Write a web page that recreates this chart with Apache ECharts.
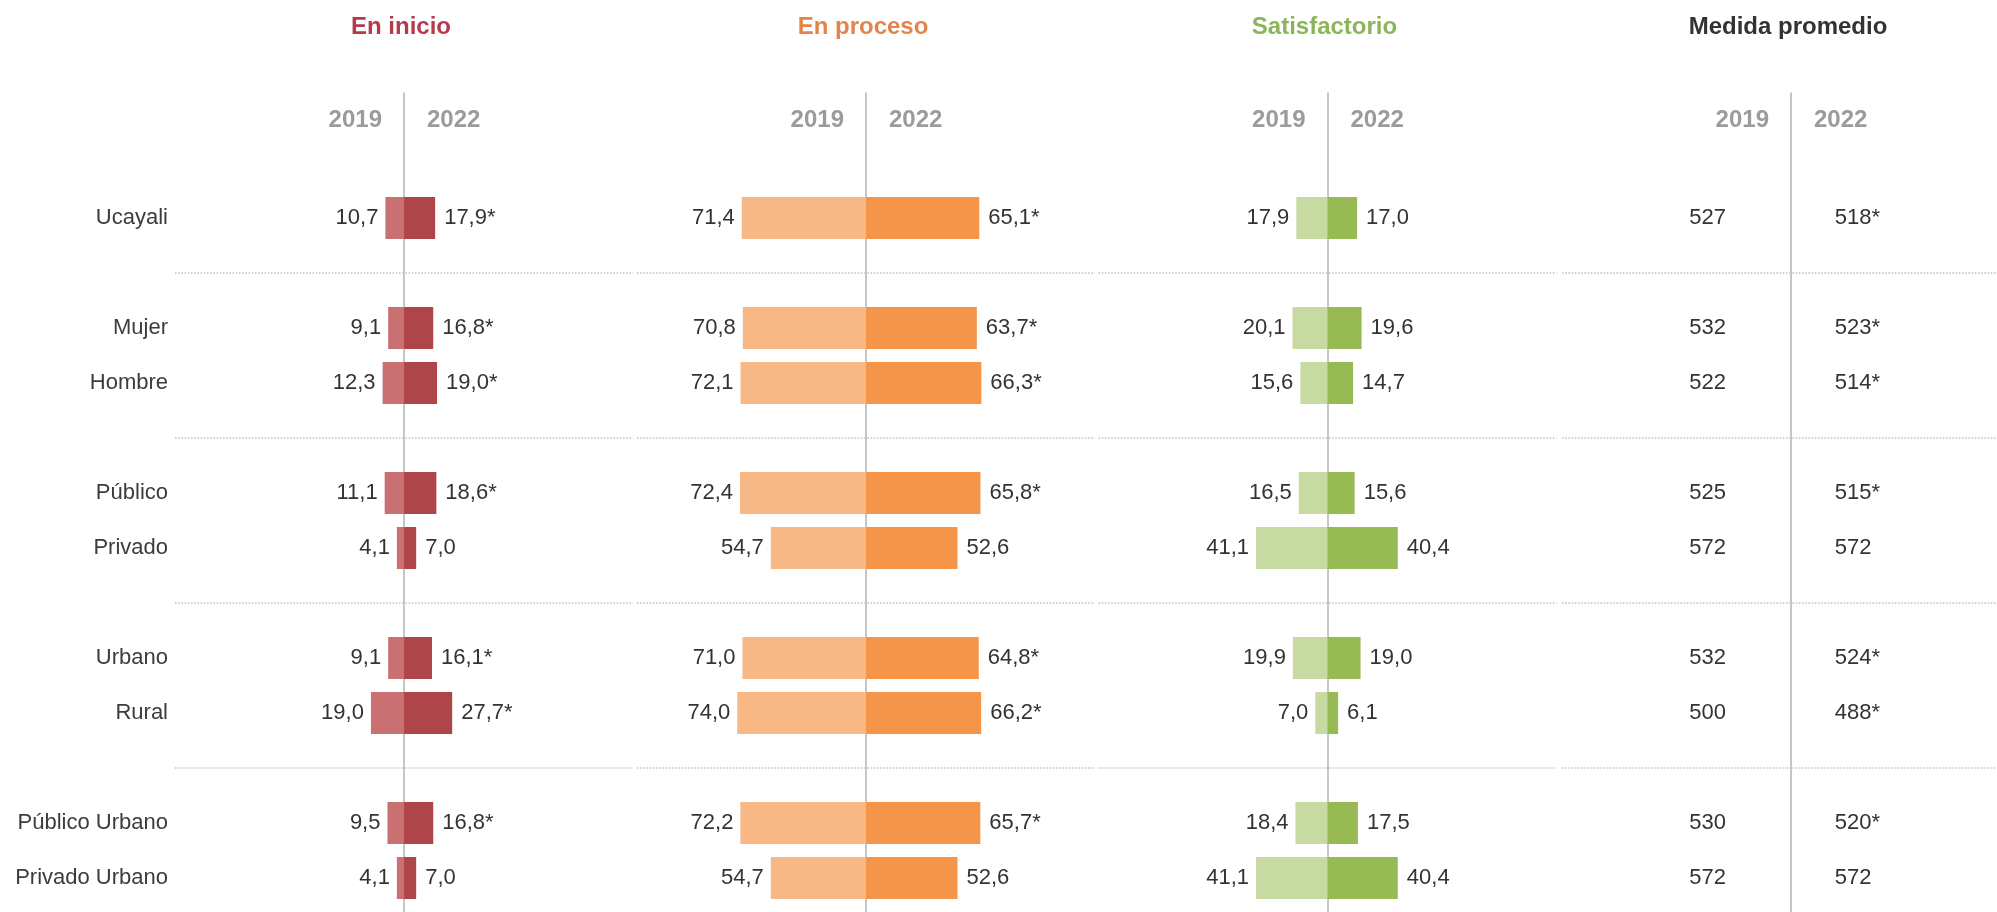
<!DOCTYPE html>
<html>

<head>
    <meta charset='utf-8' />
    <script src="https://cdn.jsdelivr.net/npm/echarts@6/dist/echarts.min.js"></script>
    <title>Niveles de logro 2019 - 2022</title>
    <style>
        html,
        body {
            margin: 0;
            background: #ffffff;
            overflow: hidden;
        }

        #chart {
            width: 1997px;
            height: 912px;
        }
    </style>
</head>

<body>
    <div id="chart"></div>
    <script type="text/javascript">
        // ---- data ----
        var categories = ['Ucayali', 'Mujer', 'Hombre', 'Público', 'Privado', 'Urbano', 'Rural', 'Público Urbano', 'Privado Urbano'];
        var groupSizes = [1, 2, 2, 2, 2];
        var years = ['2019', '2022'];
        var columnTitles = ['En inicio', 'En proceso', 'Satisfactorio', 'Medida promedio'];

        var inicio2019 = [10.7, 9.1, 12.3, 11.1, 4.1, 9.1, 19.0, 9.5, 4.1];
        var inicio2022 = [17.9, 16.8, 19.0, 18.6, 7.0, 16.1, 27.7, 16.8, 7.0];
        var inicioStar = [true, true, true, true, false, true, true, true, false];

        var proceso2019 = [71.4, 70.8, 72.1, 72.4, 54.7, 71.0, 74.0, 72.2, 54.7];
        var proceso2022 = [65.1, 63.7, 66.3, 65.8, 52.6, 64.8, 66.2, 65.7, 52.6];
        var procesoStar = [true, true, true, true, false, true, true, true, false];

        var satisf2019 = [17.9, 20.1, 15.6, 16.5, 41.1, 19.9, 7.0, 18.4, 41.1];
        var satisf2022 = [17.0, 19.6, 14.7, 15.6, 40.4, 19.0, 6.1, 17.5, 40.4];
        var satisfStar = [false, false, false, false, false, false, false, false, false];

        var medida2019 = [527, 532, 522, 525, 572, 532, 500, 530, 572];
        var medida2022 = [518, 523, 514, 515, 572, 524, 488, 520, 572];
        var medidaStar = [true, true, true, true, false, true, true, true, false];

        // ---- layout ----
        var FONT = "'Liberation Sans', Arial, Helvetica, sans-serif";
        var centers = [404, 866, 1327.5, 1791];
        var halfW = 229;
        var pxPerUnit = 1.74;
        var xLim = halfW / pxPerUnit;
        var rowH = 55;
        var firstRowY = 218;

        var titleColors = ['#b73a4c', '#e5844a', '#8cb55a', '#333333'];
        var barColors = [
            ['#c97072', '#ae4649'],
            ['#f8b886', '#f4954a'],
            ['#c6daa2', '#97ba55']
        ];

        // category slots with empty spacer rows between the groups
        var slots = [];
        var slotOf = [];
        var spacers = [];
        var k = 0;
        groupSizes.forEach(function(n, g) {
            if (g > 0) {
                spacers.push(slots.length);
                slots.push('');
            }
            for (var j = 0; j < n; j++) {
                slotOf.push(slots.length);
                slots.push(categories[k++]);
            }
        });

        var gridTop = firstRowY - rowH / 2;
        var gridH = rowH * slots.length;

        function fmt(v, star, dec) {
            return v.toFixed(dec).replace('.', ',') + (star ? '*' : '');
        }

        function barData(vals, stars, sign) {
            var out = slots.map(function() { return '-'; });
            vals.forEach(function(v, i) {
                out[slotOf[i]] = { value: sign * v, txt: fmt(v, stars ? stars[i] : false, 1) };
            });
            return out;
        }

        var grids = [], xAxes = [], yAxes = [], series = [], graphics = [];

        centers.forEach(function(c, i) {
            // data grid
            grids.push({ left: c - halfW, top: gridTop, width: halfW * 2, height: gridH });
            xAxes.push({ type: 'value', gridIndex: i, min: -xLim, max: xLim, show: false });
            yAxes.push({
                type: 'category', gridIndex: i, inverse: true, data: slots,
                axisLine: { show: false, onZero: false },
                axisTick: { show: false },
                splitLine: { show: false },
                axisLabel: {
                    show: i === 0, margin: 7, color: '#3c3c3c',
                    fontSize: 22, fontFamily: FONT
                }
            });
        });

        centers.forEach(function(c, i) {
            // thin grid only for the vertical divider line
            grids.push({ left: c, top: 93, bottom: 0, width: 10 });
            xAxes.push({ type: 'value', gridIndex: 4 + i, min: 0, max: 1, show: false });
            yAxes.push({
                type: 'category', gridIndex: 4 + i, data: [''],
                axisLine: { show: true, lineStyle: { color: '#b3b3b3', width: 1.5 } },
                axisTick: { show: false },
                axisLabel: { show: false }
            });
        });

        var sepLine = {
            silent: true,
            symbol: 'none',
            label: { show: false },
            lineStyle: { color: '#c4c4c4', type: 'dotted', width: 1.6 },
            data: spacers.map(function(s) { return { yAxis: s }; })
        };

        var barSets = [
            [inicio2019, inicio2022, inicioStar],
            [proceso2019, proceso2022, procesoStar],
            [satisf2019, satisf2022, satisfStar]
        ];

        var labelStyle = { color: '#333333', opacity: 1, fontSize: 22, fontFamily: FONT };

        barSets.forEach(function(set, i) {
            series.push({
                name: columnTitles[i] + ' ' + years[0],
                type: 'bar',
                xAxisIndex: i, yAxisIndex: i,
                barWidth: 42, barGap: '-100%',
                itemStyle: { color: barColors[i][0] },
                label: Object.assign({
                    show: true, position: 'left', distance: 7,
                    formatter: function(p) { return p.data.txt; }
                }, labelStyle),
                data: barData(set[0], null, -1),
                markLine: sepLine
            });
            series.push({
                name: columnTitles[i] + ' ' + years[1],
                type: 'bar',
                xAxisIndex: i, yAxisIndex: i,
                barWidth: 42, barGap: '-100%',
                itemStyle: { color: barColors[i][1] },
                label: Object.assign({
                    show: true, position: 'right', distance: 9,
                    formatter: function(p) { return p.data.txt; }
                }, labelStyle),
                data: barData(set[1], set[2], 1)
            });
        });

        // medida promedio: numbers only, anchored on invisible points
        function scoreData(vals, stars, x) {
            return vals.map(function(v, i) {
                return { value: [x, slotOf[i]], txt: fmt(v, stars ? stars[i] : false, 0) };
            });
        }
        var scoreBase = {
            type: 'scatter', xAxisIndex: 3, yAxisIndex: 3,
            symbol: 'circle', symbolSize: 0.5,
            itemStyle: { color: '#ffffff' },
            emphasis: { disabled: true }
        };
        series.push(Object.assign({}, scoreBase, {
            name: columnTitles[3] + ' ' + years[0],
            label: Object.assign({
                show: true, position: 'left', distance: 0,
                formatter: function(p) { return p.data.txt; }
            }, labelStyle),
            data: scoreData(medida2019, null, -56 / pxPerUnit),
            markLine: sepLine
        }));
        series.push(Object.assign({}, scoreBase, {
            name: columnTitles[3] + ' ' + years[1],
            label: Object.assign({
                show: true, position: 'right', distance: 0,
                formatter: function(p) { return p.data.txt; }
            }, labelStyle),
            data: scoreData(medida2022, medidaStar, 58 / pxPerUnit)
        }));

        // column titles and year headers
        centers.forEach(function(c, i) {
            graphics.push({
                type: 'text', x: c - 3, y: 27,
                style: {
                    text: columnTitles[i], fill: titleColors[i],
                    font: 'bold 24px ' + FONT, align: 'center', verticalAlign: 'middle'
                }
            });
            graphics.push({
                type: 'text', x: c - 22, y: 120,
                style: {
                    text: years[0], fill: '#9b9b9b',
                    font: 'bold 24px ' + FONT, align: 'right', verticalAlign: 'middle'
                }
            });
            graphics.push({
                type: 'text', x: c + 23, y: 120,
                style: {
                    text: years[1], fill: '#9b9b9b',
                    font: 'bold 24px ' + FONT, align: 'left', verticalAlign: 'middle'
                }
            });
        });

        var chart = echarts.init(document.getElementById('chart'));
        chart.setOption({
            animation: false,
            backgroundColor: '#ffffff',
            grid: grids,
            xAxis: xAxes,
            yAxis: yAxes,
            series: series,
            graphic: graphics
        });
    </script>
</body>

</html>
